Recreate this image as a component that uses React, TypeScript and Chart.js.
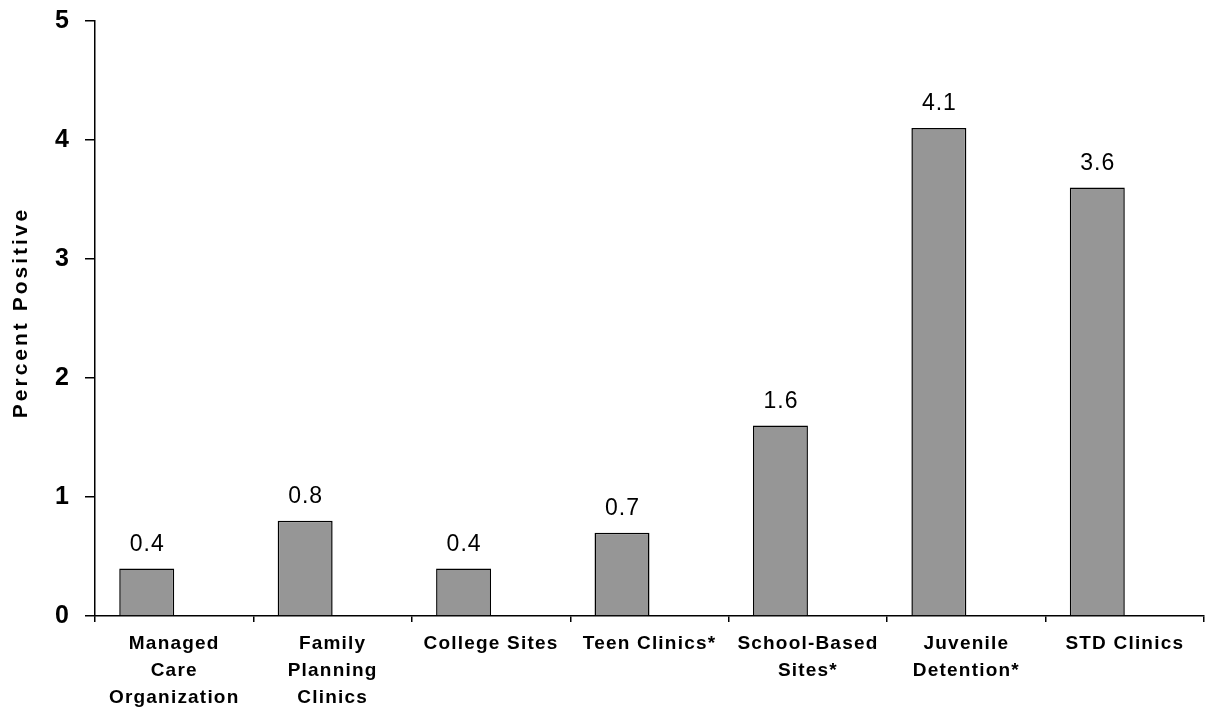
import React, { useEffect, useRef } from 'react';
import { Chart, registerables } from 'chart.js';

Chart.register(...registerables);

const categories: (string | string[])[] = [
  ['Managed', 'Care', 'Organization'],
  ['Family', 'Planning', 'Clinics'],
  'College Sites',
  'Teen Clinics*',
  ['School-Based', 'Sites*'],
  ['Juvenile', 'Detention*'],
  'STD Clinics',
];
const percentPositive = [0.4, 0.8, 0.4, 0.7, 1.6, 4.1, 3.6];
const emptySeries = categories.map(() => null);
const yTitle = 'Percent Positive';
const yMin = 0;
const yMax = 5;
const yStep = 1;

const FONT = '"Liberation Sans", Arial, Helvetica, sans-serif';

const spacingPlugin = {
  id: 'spacing',
  beforeLayout(chart: any) {
    chart.ctx.letterSpacing = '1.2px';
  },
  beforeDraw(chart: any) {
    chart.ctx.letterSpacing = '1.2px';
  },
};

const yTitlePlugin = {
  id: 'yTitlePlugin',
  afterDraw(chart: any) {
    const ctx = chart.ctx;
    const area = chart.chartArea;
    ctx.save();
    ctx.letterSpacing = '3px';
    ctx.font = `bold 21px ${FONT}`;
    ctx.fillStyle = '#000';
    ctx.textAlign = 'center';
    ctx.textBaseline = 'alphabetic';
    ctx.translate(27, (area.top + area.bottom) / 2 - 6);
    ctx.rotate(-Math.PI / 2);
    ctx.fillText(yTitle, 0, 0);
    ctx.restore();
  },
};

const valueLabels = {
  id: 'valueLabels',
  afterDatasetsDraw(chart: any) {
    const ctx = chart.ctx;
    const meta = chart.getDatasetMeta(0);
    ctx.save();
    ctx.letterSpacing = '1px';
    ctx.font = `normal 23px ${FONT}`;
    ctx.fillStyle = '#000';
    ctx.textAlign = 'center';
    ctx.textBaseline = 'middle';
    meta.data.forEach((bar: any, i: number) => {
      const v = percentPositive[i];
      ctx.fillText(v.toFixed(1), bar.x + 0.5, bar.y - 24);
    });
    ctx.restore();
  },
};

export default function App() {
  const ref = useRef<HTMLCanvasElement | null>(null);
  useEffect(() => {
    if (!ref.current) return;
    const chart = new Chart(ref.current, {
      type: 'bar',
      data: {
        labels: categories as any,
        datasets: [
          {
            label: 'Percent Positive',
            data: percentPositive,
            backgroundColor: '#969696',
            borderColor: '#000',
            borderWidth: 1.5,
            categoryPercentage: 0.694,
            barPercentage: 1,
          },
          {
            label: '',
            data: emptySeries as any,
            backgroundColor: '#969696',
            borderColor: '#000',
            borderWidth: 0,
            categoryPercentage: 0.694,
            barPercentage: 1,
          },
        ],
      },
      options: {
        animation: false,
        responsive: false,
        devicePixelRatio: 1,
        layout: { padding: { top: 21, right: 2, left: 0, bottom: 0 } },
        plugins: {
          legend: { display: false },
          tooltip: { enabled: false },
        },
        scales: {
          x: {
            grid: {
              offset: true,
              drawOnChartArea: false,
              color: '#000',
              tickLength: 6,
              lineWidth: 1.5,
            },
            border: { color: '#000', width: 1.5 },
            ticks: {
              color: '#000',
              font: { family: FONT, size: 19, weight: 'bold', lineHeight: 1.42 },
              padding: 8,
              maxRotation: 0,
              autoSkip: false,
            },
            afterFit: (s: any) => {
              s.height = 93;
              s.paddingLeft = 0;
              s.paddingRight = 0;
            },
          },
          y: {
            min: yMin,
            max: yMax,
            ticks: {
              stepSize: yStep,
              color: '#000',
              font: { family: FONT, size: 25, weight: 'bold' },
              padding: 15,
            },
            grid: {
              drawOnChartArea: false,
              color: '#000',
              tickLength: 10,
              lineWidth: 1.5,
            },
            border: { color: '#000', width: 1.5 },
            title: { display: false, text: yTitle },
            afterFit: (s: any) => {
              s.width = 95;
              s.paddingTop = 0;
              s.paddingBottom = 0;
            },
          },
        },
      } as any,
      plugins: [spacingPlugin, yTitlePlugin, valueLabels],
    });
    return () => chart.destroy();
  }, []);
  return (
    <div style={{ position: 'absolute', left: 0, top: 0, width: 1206, height: 709, background: '#fff' }}>
      <canvas ref={ref} width={1206} height={709} style={{ display: 'block' }} />
    </div>
  );
}
